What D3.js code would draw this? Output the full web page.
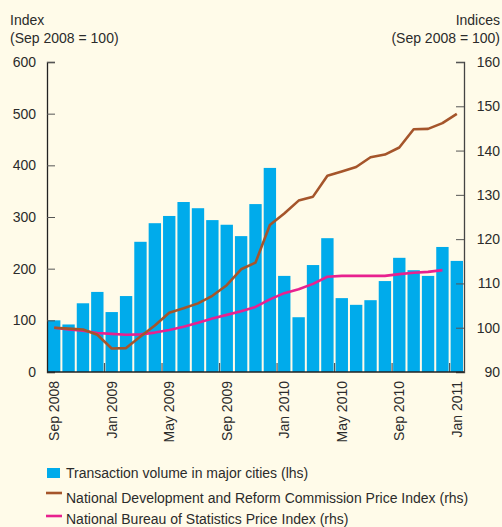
<!DOCTYPE html>
<html><head><meta charset="utf-8">
<script src="https://cdn.jsdelivr.net/npm/d3@7"></script>
<style>
html,body{margin:0;padding:0;background:#fffbe9;}
svg{display:block;font-family:"Liberation Sans",Arial,Helvetica,sans-serif;}
</style></head>
<body><svg id="c" width="502" height="527"></svg>
<script>
const months = ["Sep 2008","Oct 2008","Nov 2008","Dec 2008","Jan 2009","Feb 2009","Mar 2009","Apr 2009","May 2009","Jun 2009","Jul 2009","Aug 2009","Sep 2009","Oct 2009","Nov 2009","Dec 2009","Jan 2010","Feb 2010","Mar 2010","Apr 2010","May 2010","Jun 2010","Jul 2010","Aug 2010","Sep 2010","Oct 2010","Nov 2010","Dec 2010","Jan 2011"];
const volume = [100,92,133,155,116,147,252,288,302,329,317,294,285,263,325,395,186,106,207,259,143,130,139,176,221,197,186,242,215];
const ndrc = [100,99.8,99.6,98.4,95.3,95.4,98.0,100.5,103.4,104.4,105.5,107.2,109.6,113.2,114.7,123.2,125.8,128.7,129.6,134.3,135.3,136.3,138.5,139.1,140.7,144.8,144.9,146.2,148.3];
const nbs = [100,99.6,99.3,98.8,98.6,98.4,98.5,98.9,99.5,100.2,101.1,102.1,102.9,103.7,104.7,106.4,107.8,108.7,109.9,111.5,111.7,111.7,111.7,111.7,112.1,112.4,112.6,113.0];
const tickLabels = ["Sep 2008","Jan 2009","May 2009","Sep 2009","Jan 2010","May 2010","Sep 2010","Jan 2011"];
const leftTicks = [0,100,200,300,400,500,600];
const rightTicks = [90,100,110,120,130,140,150,160];

const svg = d3.select("#c");
const L = 47, R = 464, T = 62, B = 372;
const txt = "#2b2b2b";

const x = d3.scaleBand().domain(months).range([L, R]).paddingInner(0.14).paddingOuter(0.07);
const yL = d3.scaleLinear().domain([0, 600]).range([B, T]);
const yR = d3.scaleLinear().domain([90, 160]).range([B, T]);

// bars
svg.append("g").selectAll("rect").data(volume).join("rect")
  .attr("x", (d, i) => x(months[i]))
  .attr("y", d => yL(d))
  .attr("width", x.bandwidth())
  .attr("height", d => yL(0) - yL(d))
  .attr("fill", "#00abeb");

// left axis
const gl = svg.append("g").attr("transform", `translate(${L},0)`)
  .call(d3.axisLeft(yL).tickValues(leftTicks).tickSize(-8).tickPadding(11));
gl.select(".domain").attr("stroke", "#222").attr("stroke-width", 1.3);
gl.selectAll(".tick line").attr("stroke", "#555");
gl.selectAll(".tick text").attr("font-size", 14).attr("fill", txt).attr("font-family", null);

// right axis
const gr = svg.append("g").attr("transform", `translate(${R},0)`)
  .call(d3.axisRight(yR).tickValues(rightTicks).tickSize(-8));
gr.select(".domain").attr("stroke", "#444").attr("stroke-width", 1.3);
gr.selectAll(".tick line").attr("stroke", "#555");
gr.selectAll(".tick text").attr("font-size", 14).attr("fill", txt).attr("font-family", null)
  .attr("text-anchor", "end").attr("x", 500 - R);

// lines
const lineN = d3.line().x((d, i) => x(months[i]) + x.bandwidth() / 2).y(d => yR(d));
svg.append("path").datum(nbs).attr("d", lineN).attr("fill", "none")
  .attr("stroke", "#e8218f").attr("stroke-width", 2.6).attr("stroke-linejoin", "round");
svg.append("path").datum(ndrc).attr("d", lineN).attr("fill", "none")
  .attr("stroke", "#a5552b").attr("stroke-width", 2.6).attr("stroke-linejoin", "round");

// x axis baseline and ticks
const half = x.step() * x.paddingInner() / 2;
svg.append("g").selectAll("line").data(tickLabels.slice(1)).join("line")
  .attr("x1", d => x(d) - half).attr("x2", d => x(d) - half)
  .attr("y1", B).attr("y2", B - 9).attr("stroke", "#555").attr("stroke-width", 1.2);
svg.append("line").attr("x1", L).attr("x2", R).attr("y1", B).attr("y2", B)
  .attr("stroke", "#222").attr("stroke-width", 1.5);

svg.append("g").selectAll("text").data(tickLabels).join("text")
  .attr("transform", d => `translate(${x(d) + x.bandwidth() / 2},381) rotate(-90)`)
  .attr("text-anchor", "end").attr("dy", "0.36em")
  .attr("font-size", 14).attr("fill", txt).text(d => d);

// axis titles
svg.append("text").attr("x", 10).attr("y", 25).attr("font-size", 14).attr("fill", txt).text("Index");
svg.append("text").attr("x", 10).attr("y", 43).attr("font-size", 14).attr("fill", txt).text("(Sep 2008 = 100)");
svg.append("text").attr("x", 500).attr("y", 25).attr("font-size", 14).attr("fill", txt).attr("text-anchor", "end").text("Indices");
svg.append("text").attr("x", 500).attr("y", 43).attr("font-size", 14).attr("fill", txt).attr("text-anchor", "end").text("(Sep 2008 = 100)");

// legend
const legend = [
  {label: "Transaction volume in major cities (lhs)", type: "bar", color: "#00abeb"},
  {label: "National Development and Reform Commission Price Index (rhs)", type: "line", color: "#a5552b"},
  {label: "National Bureau of Statistics Price Index (rhs)", type: "line", color: "#e8218f"}
];
const lg = svg.append("g");
const legY = [473, 493, 516];
const legBase = [478, 503, 524];
legend.forEach((d, i) => {
  const cy = legY[i];
  if (d.type === "bar") {
    lg.append("rect").attr("x", 47).attr("y", cy - 5).attr("width", 13).attr("height", 10).attr("fill", d.color);
  } else {
    lg.append("line").attr("x1", 46).attr("x2", 62).attr("y1", cy).attr("y2", cy)
      .attr("stroke", d.color).attr("stroke-width", 2.6);
  }
  lg.append("text").attr("x", 66).attr("y", legBase[i]).attr("font-size", 14)
    .attr("fill", txt).text(d.label);
});
</script></body></html>
